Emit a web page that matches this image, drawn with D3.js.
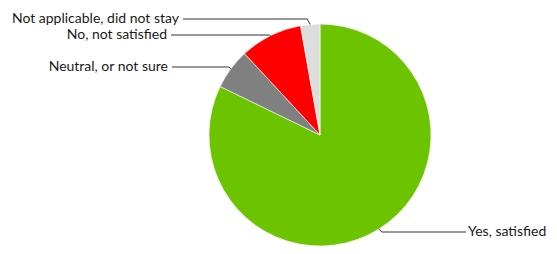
<!DOCTYPE html>
<html>
<head>
<meta charset="utf-8">
<script src="https://cdnjs.cloudflare.com/ajax/libs/d3/7.8.5/d3.min.js"></script>
<style>
  body { margin: 0; background: #fff; }
  svg text { font-family: Lato, "Open Sans", sans-serif; font-size: 14px; fill: #1a1a1a; }
</style>
</head>
<body>
<div id="chart"></div>
<script>
// Survey answers, clockwise from 12 o'clock
const categories = ["Yes, satisfied", "Neutral, or not sure", "No, not satisfied", "Not applicable, did not stay"];
const shares = [82.2, 5.9, 9.1, 2.8];
const colors = ["#6cc400", "#808080", "#ff0000", "#dddddd"];

const data = categories.map((c, i) => ({label: c, value: shares[i], color: colors[i]}));

const svg = d3.select("#chart").append("svg")
    .attr("width", 557)
    .attr("height", 254);

const cx = 320, cy = 135, radius = 111;

// where each label line sits (y) and which side the text goes
const labelLayout = [
    {y: 232, side: "right", x: 468},
    {y: 67, side: "left", x: 168},
    {y: 35, side: "left", x: 167},
    {y: 19, side: "left", x: 179}
];

const pie = d3.pie().sort(null).value(d => d.value);
const arc = d3.arc().innerRadius(0).outerRadius(radius);
const edge = d3.arc().innerRadius(radius).outerRadius(radius);

const g = svg.append("g")
    .attr("transform", "translate(" + cx + "," + cy + ")");

const arcs = pie(data);

g.selectAll("path.slice")
    .data(arcs)
    .enter().append("path")
    .attr("class", "slice")
    .attr("d", arc)
    .attr("fill", d => d.data.color)
    .attr("stroke", "#fff")
    .attr("stroke-width", 0.6);

// leader lines
arcs.forEach(function(d, i) {
    const lay = labelLayout[i];
    const p = edge.centroid(d);
    const ly = lay.y - cy;
    const dir = lay.side === "right" ? 1 : -1;
    const elbowX = p[0] + dir * Math.min(3, Math.abs(ly - p[1]));
    const endX = lay.x - cx + (lay.side === "right" ? -2 : 4);

    g.append("polyline")
        .attr("points", [[p[0], p[1]], [elbowX, ly], [endX, ly]].map(q => q.join(",")).join(" "))
        .attr("fill", "none")
        .attr("stroke", "#333")
        .attr("stroke-width", 1);

    svg.append("text")
        .attr("x", lay.x)
        .attr("y", lay.y + 4)
        .attr("text-anchor", lay.side === "right" ? "start" : "end")
        .text(d.data.label);
});
</script>
</body>
</html>
